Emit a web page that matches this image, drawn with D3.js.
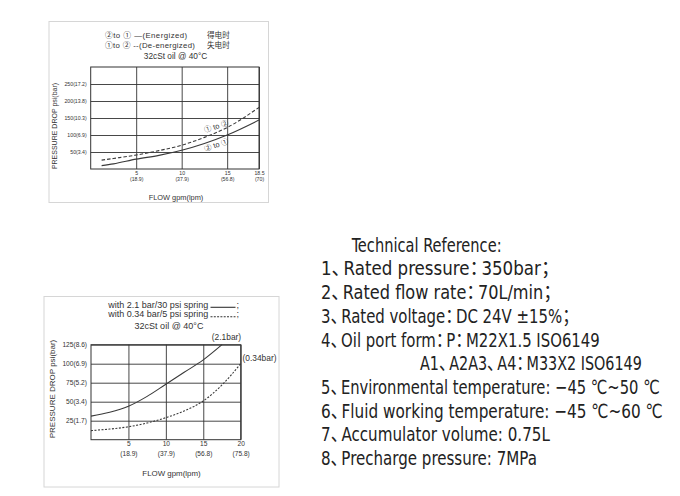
<!DOCTYPE html>
<html lang="zh">
<head>
<meta charset="UTF-8">
<title>Pressure drop curves</title>
<script src="https://d3js.org/d3.v7.min.js"></script>
<style>
  body { margin: 0; background: #fff; }
  svg { display: block; }
  .chart text { font-family: "Liberation Sans", "Noto Sans CJK SC", sans-serif; fill: #333; }
  .grid line { stroke: #333; stroke-width: 0.9; }
  .grid path { display: none; }
  .tech text { font-family: "DejaVu Sans Condensed", "DejaVu Sans", "Noto Sans CJK SC", sans-serif; fill: #222; }
  .tech .fw { letter-spacing: -7px; }
</style>
</head>
<body>
<svg id="fig" width="680" height="496"></svg>
<script>
// ---- chart 1 : solenoid valve pressure drop ----
var c1Ticks = [5, 10, 15, 18.5];
var c1Lpm = ["(18.9)", "(37.9)", "(56.8)", "(70)"];
var c1PsiTicks = [50, 100, 150, 200, 250];
var c1Bar = ["3.4", "6.9", "10.3", "13.8", "17.2"];
var c1Flow = [1.2, 2.5, 5, 7.5, 10, 12.5, 15, 18.5];
var c1Energized = [10, 15, 29, 40, 55, 75, 100, 144];     // 2 to 1, solid
var c1DeEnergized = [26, 31, 41, 54, 70, 93, 122, 181];  // 1 to 2, dashed

// ---- chart 2 : check valve with springs ----
var c2Ticks = [5, 10, 15, 20];
var c2Lpm = ["(18.9)", "(37.9)", "(56.8)", "(75.8)"];
var c2PsiTicks = [25, 50, 75, 100, 125];
var c2Bar = ["1.7", "3.4", "5.2", "6.9", "8.6"];
var c2FlowA = [0, 2.5, 5, 7.5, 10, 12.5, 15, 17.5];
var c2Spring21 = [31, 36, 44, 57, 73, 89, 105, 125];
var c2FlowB = [0, 2.5, 5, 7.5, 10, 12.5, 15, 17.5, 20];
var c2Spring034 = [12, 14, 17, 22, 29, 38, 51, 72, 100];

// ---- technical text ----
var techLines = [
  "Technical Reference:",
  "1、Rated pressure：350bar；",
  "2、Rated flow rate：70L/min；",
  "3、Rated voltage：DC 24V ±15%；",
  "4、Oil port form：P：M22X1.5 ISO6149",
  "A1、A2A3、A4：M33X2 ISO6149",
  "5、Environmental temperature: −45 ℃~50 ℃",
  "6、Fluid working temperature: −45 ℃~60 ℃",
  "7、Accumulator volume: 0.75L",
  "8、Precharge pressure: 7MPa"
];
// layout: left edge and drawn width of each line
var techLeft = [351.7, 321, 321, 321, 321, 420, 321, 321, 321, 321];
var techWidth = [150, 232, 234, 252, 279, 222, 339, 342, 229, 216];

var svg = d3.select("#fig");

function drawChart(g, o) {
  var x = d3.scaleLinear().domain(o.xDom).range(o.xRange);
  var y = d3.scaleLinear().domain(o.yDom).range(o.yRange);
  var x0 = o.xRange[0], x1 = o.xRange[1], y0 = o.yRange[0], y1 = o.yRange[1];

  // outer light frame
  g.append("rect").attr("x", o.frame[0]).attr("y", o.frame[1])
    .attr("width", o.frame[2] - o.frame[0]).attr("height", o.frame[3] - o.frame[1])
    .attr("fill", "none").attr("stroke", "#d6d6d6").attr("stroke-width", 1);

  // grid via axes
  var gy = g.append("g").attr("class", "grid").attr("transform", "translate(" + x0 + ",0)")
    .call(d3.axisLeft(y).tickValues(o.yTicks).tickSize(-(x1 - x0)).tickPadding(4)
      .tickFormat(function (d, i) { return d + "(" + o.bar[i] + ")"; }));
  gy.selectAll("text").style("font-size", o.tickFont + "px").attr("fill", "#333");

  var gx = g.append("g").attr("class", "grid").attr("transform", "translate(0," + y0 + ")")
    .call(d3.axisBottom(x).tickValues(o.xTicks).tickSize(-(y0 - y1)).tickPadding(2)
      .tickFormat(function (d) { return d; }));
  gx.selectAll("text").style("font-size", o.tickFont + "px").attr("fill", "#333");
  gx.selectAll(".tick").append("text")
    .attr("y", o.tickFont * 2.4).attr("text-anchor", "middle")
    .style("font-size", o.tickFont + "px").attr("fill", "#333")
    .text(function (d, i) { return o.lpm[i]; });

  g.append("rect").attr("x", x0).attr("y", y1).attr("width", x1 - x0).attr("height", y0 - y1)
    .attr("fill", "none").attr("stroke", "#333").attr("stroke-width", 1);

  var line = d3.line().curve(d3.curveMonotoneX);
  o.series.forEach(function (s) {
    g.append("path")
      .attr("d", line(s.x.map(function (v, i) { return [x(v), y(s.y[i])]; })))
      .attr("fill", "none").attr("stroke", "#3a3a3a").attr("stroke-width", 1.1)
      .attr("stroke-dasharray", s.dash || null);
  });

  // axis titles
  g.append("text").attr("transform", "translate(" + o.yTitle[0] + "," + o.yTitle[1] + ") rotate(-90)")
    .attr("text-anchor", "middle").attr("dominant-baseline", "middle")
    .style("font-size", o.titleFont + "px").text("PRESSURE DROP psi(bar)");
  g.append("text").attr("x", o.xTitle[0]).attr("y", o.xTitle[1])
    .attr("text-anchor", "middle").attr("dominant-baseline", "middle")
    .style("font-size", o.xTitleFont + "px").text("FLOW gpm(lpm)");
  return { x: x, y: y };
}

function label(g, x, y, size, txt, anchor) {
  return g.append("text").attr("x", x).attr("y", y).attr("dominant-baseline", "middle")
    .attr("text-anchor", anchor || "start").style("font-size", size + "px").text(txt);
}

// chart 1
var g1 = svg.append("g").attr("class", "chart");
drawChart(g1, {
  frame: [49, 21.5, 268.5, 202.5],
  xDom: [0, 18.5], xRange: [90.7, 259],
  yDom: [0, 300], yRange: [169, 67],
  xTicks: c1Ticks, lpm: c1Lpm, yTicks: c1PsiTicks, bar: c1Bar,
  tickFont: 5.2, titleFont: 7, xTitleFont: 7.4,
  yTitle: [55.5, 126], xTitle: [176, 198],
  series: [
    { x: c1Flow, y: c1Energized },
    { x: c1Flow, y: c1DeEnergized, dash: "3.5,2" }
  ]
});
label(g1, 105, 36, 7.8, "②to ① —(Energized)").style("letter-spacing", "0.45px");
label(g1, 207, 36, 7.6, "得电时").style("font-family", "Noto Sans CJK SC");
label(g1, 105, 45.7, 7.8, "①to ② --(De-energized)").style("letter-spacing", "0.3px");
label(g1, 207, 45.7, 7.6, "失电时").style("font-family", "Noto Sans CJK SC");
label(g1, 175.5, 56.7, 8.3, "32cSt oil @ 40°C", "middle");
g1.append("text").attr("transform", "translate(216.5,127) rotate(-17)")
  .attr("text-anchor", "middle").attr("dominant-baseline", "middle")
  .style("font-size", "7.4px").text("① to ②");
g1.append("text").attr("transform", "translate(216.5,145.5) rotate(-19)")
  .attr("text-anchor", "middle").attr("dominant-baseline", "middle")
  .style("font-size", "7.4px").text("② to ①");

// chart 2
var g2 = svg.append("g").attr("class", "chart");
drawChart(g2, {
  frame: [44, 296.5, 279, 487],
  xDom: [0, 20], xRange: [91, 240.7],
  yDom: [0, 125], yRange: [439.7, 344.7],
  xTicks: c2Ticks, lpm: c2Lpm, yTicks: c2PsiTicks, bar: c2Bar,
  tickFont: 6.6, titleFont: 8, xTitleFont: 7.9,
  yTitle: [53, 389], xTitle: [171.5, 474],
  series: [
    { x: c2FlowA, y: c2Spring21 },
    { x: c2FlowB, y: c2Spring034, dash: "2,1.5" }
  ]
});
label(g2, 108.3, 305.7, 9, "with 2.1 bar/30 psi spring");
g2.append("line").attr("x1", 210.5).attr("x2", 235.5).attr("y1", 307.3).attr("y2", 307.3)
  .attr("stroke", "#333").attr("stroke-width", 1.1);
label(g2, 236.5, 305.7, 9, ";");
label(g2, 108.3, 315, 9, "with 0.34 bar/5 psi spring");
g2.append("line").attr("x1", 210.5).attr("x2", 235.5).attr("y1", 316.7).attr("y2", 316.7)
  .attr("stroke", "#333").attr("stroke-width", 1.1).attr("stroke-dasharray", "2,1.3");
label(g2, 236.5, 315, 9, ";");
label(g2, 169, 326.7, 9, "32cSt oil @ 40°C", "middle");
label(g2, 226.5, 337.5, 8.4, "(2.1bar)", "middle");
label(g2, 242.5, 359, 8.4, "(0.34bar)");

// technical text block: each line squeezed horizontally to its width,
// full-width punctuation tightened
var tech = svg.append("g").attr("class", "tech");
tech.selectAll("text").data(techLines).enter().append("text")
  .attr("x", 0).attr("y", 0)
  .style("font-size", "19.5px")
  .each(function (d) {
    var t = d3.select(this);
    d.split(/([、：；])/).forEach(function (part) {
      if (!part) return;
      t.append("tspan").attr("class", /^[、：；]$/.test(part) ? "fw" : null).text(part);
    });
  })
  .attr("transform", function (d, i) {
    var w = this.getComputedTextLength();
    return "translate(" + techLeft[i] + "," + (251.7 + i * 23.7) + ") scale(" + (techWidth[i] / w) + ",1)";
  });
</script>
</body>
</html>
